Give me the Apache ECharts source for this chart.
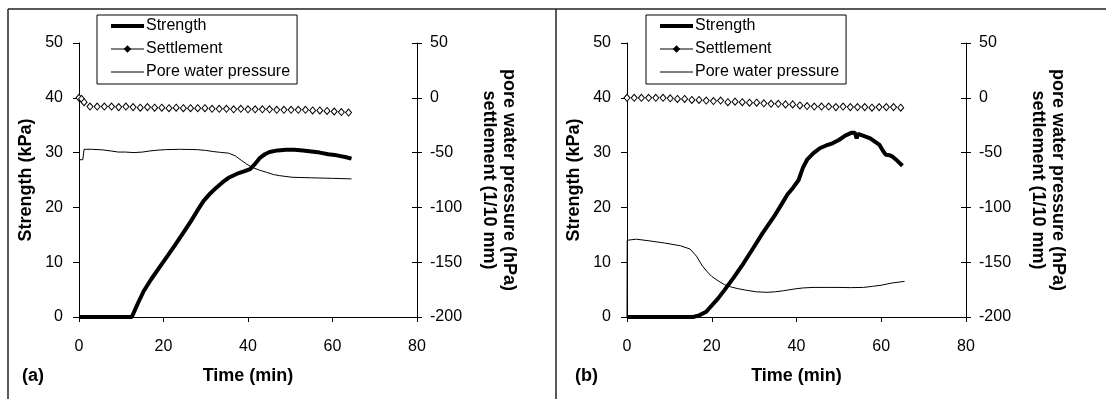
<!DOCTYPE html>
<html lang="en" style="height: 100%">
<head>
    <meta charset="UTF-8">
    <title>Strength, settlement and pore water pressure vs time</title>
    <script src="https://cdn.jsdelivr.net/npm/echarts@6/dist/echarts.min.js"></script>
</head>
<body style="height: 100%; margin: 0; background: #fff">
<div id="main" style="width: 1106px; height: 399px"></div>
<script>
    // tick values
    var timeTicks = [0, 20, 40, 60, 80];
    var strengthTicks = [0, 10, 20, 30, 40, 50];
    var rightTicks = [-200, -150, -100, -50, 0, 50];

    // test (a): [time (min), value]
    var strengthA = [[0,0],[5,0],[10,0],[12.5,0],[13.2,1.2],[14,2.6],[15.3,4.7],[17,6.8],[19,9],[21,11.2],[22.8,13.2],
        [24.7,15.4],[26.5,17.5],[28,19.4],[29.5,21.2],[31,22.5],[32.5,23.6],[34,24.6],[35.4,25.4],[37.3,26.1],[39.2,26.6],
        [40.5,27],[41.5,27.8],[42.9,29.1],[44,29.7],[45.1,30.1],[47,30.4],[49,30.5],[51,30.5],[53,30.4],[55,30.2],
        [57,30],[59,29.7],[61,29.5],[63,29.2],[64.5,28.9]];
    var settlementA = [[0,0],[0.6,-1],[1.2,-4],[2.6,-8],[4.3,-8],[6.0,-8],[7.7,-8],[9.4,-8.5],[11.1,-8],[12.8,-8.5],
        [14.5,-9],[16.2,-8.5],[17.9,-9],[19.6,-9],[21.3,-9.5],[23.0,-9],[24.7,-9.5],[26.4,-9.5],[28.1,-9.5],[29.8,-9.5],
        [31.5,-10],[33.2,-10],[34.9,-10],[36.6,-10.5],[38.3,-10],[40.0,-10.5],[41.7,-10.5],[43.4,-10.5],[45.1,-10.5],[46.8,-11],
        [48.5,-11],[50.2,-11],[51.9,-11],[53.6,-11],[55.3,-11.5],[57.0,-11.5],[58.7,-12],[60.4,-12.5],[62.1,-13],[63.8,-13.5]];
    var poreA = [[0,-56.5],[0.9,-56.5],[1.2,-47],[3,-47],[5.6,-47.5],[7.5,-48.5],[9.3,-49.5],[11,-49.5],[13,-50],[15,-49.5],
        [16.8,-48.5],[18.5,-47.8],[20.5,-47.3],[24,-47],[28,-47.3],[30,-48],[31.7,-49],[33.5,-49.8],[35.4,-50.5],[37,-53],
        [38.4,-57],[39.7,-60.5],[41,-63.5],[42.7,-66],[44.4,-68],[46,-70],[47.4,-71],[50.4,-72.5],[55,-73],[60,-73.5],[64.5,-74]];

    // test (b)
    var strengthB = [[0,0],[5,0],[10,0],[15.6,0],[17,0.3],[18.6,0.9],[20,2.1],[21.5,3.4],[23,4.9],[25,7],[27.5,9.8],
        [29.8,12.6],[32,15.3],[33.5,17],[35,18.7],[36.5,20.6],[37.9,22.4],[39.2,23.6],[40.5,25],[41.5,27.2],[42.5,28.7],
        [44,29.9],[45.5,30.8],[47,31.3],[48.5,31.7],[50,32.3],[51.5,33.1],[52.9,33.6],[53.8,33.6],[54.2,32.6],[54.5,33.4],
        [56,33],[57.4,32.6],[58.5,32],[59.6,31.4],[60.5,30.2],[61.1,29.6],[62,29.5],[62.6,29.3],[63.8,28.5],[65,27.6]];
    var settlementB = [[0,0],[1.7,0],[3.4,0],[5.1,0],[6.8,0],[8.5,0],[10.2,-0.5],[11.9,-1],[13.6,-1],[15.3,-2],[17.0,-2],
        [18.7,-2.5],[20.4,-3],[22.1,-2.5],[23.8,-4],[25.5,-3.5],[27.2,-4],[28.9,-4.5],[30.6,-4.5],[32.3,-5],[34.0,-5.5],
        [35.7,-5.5],[37.4,-6],[39.1,-6],[40.8,-7],[42.5,-7.5],[44.2,-8],[45.9,-8],[47.6,-8],[49.3,-8.5],[51.0,-8],
        [52.7,-8.5],[54.4,-8.5],[56.1,-8.5],[57.8,-9],[59.5,-8.5],[61.2,-8.5],[62.9,-8.5],[64.6,-9]];
    var poreB = [[0,-200],[0.05,-130],[2.2,-129],[5.2,-130.5],[8.9,-132.5],[12.6,-135],[14.9,-138],[16.4,-144.5],
        [17.8,-153.5],[19,-159],[20,-163],[21.5,-167],[23,-170.5],[24.5,-172.5],[26,-174],[28,-175.5],[30.5,-177],
        [33,-177.5],[35,-177],[37,-176],[39.4,-174.5],[41.5,-173.5],[43.9,-173],[47,-173],[49.8,-173],[52.8,-173.2],
        [55.8,-173],[58,-172],[60,-171],[62.5,-169],[65.5,-167.5]];

    var font = 'Liberation Sans, Arial, sans-serif';

    function xAxis(grid) {
        return {
            type: 'value', gridIndex: grid, min: timeTicks[0], max: timeTicks[timeTicks.length - 1], interval: 20,
            name: 'Time (min)', nameLocation: 'middle', nameGap: 50,
            nameTextStyle: {fontFamily: font, fontSize: 18, fontWeight: 'bold', color: '#000'},
            axisLine: {lineStyle: {color: '#000', width: 1}},
            axisTick: {inside: false, length: 5, lineStyle: {color: '#000'}},
            axisLabel: {fontFamily: font, fontSize: 16, color: '#000', margin: 22},
            splitLine: {show: false}
        };
    }

    function leftAxis(grid) {
        return {
            type: 'value', gridIndex: grid, position: 'left', min: strengthTicks[0], max: strengthTicks[5], interval: 10,
            name: 'Strength (kPa)', nameLocation: 'middle', nameGap: 44, nameRotate: 90,
            nameTextStyle: {fontFamily: font, fontSize: 18, fontWeight: 'bold', color: '#000'},
            axisLine: {show: true, lineStyle: {color: '#000', width: 1}},
            axisTick: {show: true, length: 6, lineStyle: {color: '#000'}},
            axisLabel: {fontFamily: font, fontSize: 16, color: '#000', margin: 16},
            splitLine: {show: false}
        };
    }

    function rightAxis(grid, inside) {
        return {
            type: 'value', gridIndex: grid, position: 'right', min: rightTicks[0], max: rightTicks[5], interval: 50,
            name: inside ? '' : 'pore water pressure (hPa)\nsettlement (1/10 mm)',
            nameLocation: 'middle', nameGap: 62, nameRotate: -90,
            nameTextStyle: {fontFamily: font, fontSize: 18, fontWeight: 'bold', color: '#000', lineHeight: 20},
            axisLine: {show: !inside, lineStyle: {color: '#000', width: 1}},
            axisTick: {show: true, inside: inside, length: 5, lineStyle: {color: '#000'}},
            axisLabel: {show: !inside, fontFamily: font, fontSize: 16, color: '#000', margin: 13},
            splitLine: {show: false}
        };
    }

    function legend(left) {
        return {
            orient: 'vertical', left: left, top: 15,
            data: [
                {name: 'Strength', lineStyle: {width: 4, color: '#000'}, itemStyle: {opacity: 0}},
                {name: 'Settlement', lineStyle: {width: 1, color: '#000'}, itemStyle: {color: '#000', borderColor: '#000'}},
                {name: 'Pore water pressure', lineStyle: {width: 1, color: '#000'}, itemStyle: {opacity: 0}}
            ],
            backgroundColor: '#fff', borderColor: '#000', borderWidth: 1, borderRadius: 0,
            padding: [3, 7, 4, 12], itemWidth: 33, itemHeight: 6, itemGap: 7,
            textStyle: {fontFamily: font, fontSize: 16, color: '#000', padding: [0, 0, 0, -3], lineHeight: 16},
            selectedMode: false
        };
    }

    function seriesFor(grid, strength, settlement, pore) {
        var xi = grid, yl = grid * 3, yr = grid * 3 + 1;
        return [
            {name: 'Pore water pressure', type: 'line', xAxisIndex: xi, yAxisIndex: yr, data: pore,
                showSymbol: false, symbol: 'none', lineStyle: {color: '#000', width: 1}, z: 2},
            {name: 'Settlement', type: 'line', xAxisIndex: xi, yAxisIndex: yr, data: settlement,
                symbol: 'diamond', symbolSize: [6, 7], showAllSymbol: true,
                itemStyle: {color: '#fff', borderColor: '#000', borderWidth: 1},
                lineStyle: {width: 0}, z: 3},
            {name: 'Strength', type: 'line', xAxisIndex: xi, yAxisIndex: yl, data: strength,
                showSymbol: false, symbol: 'none', lineStyle: {color: '#000', width: 4}, z: 4}
        ];
    }

    var option = {
        backgroundColor: '#fff',
        animation: false,
        legend: [legend(97), legend(646)],
        grid: [
            {left: 79, right: 689, top: 43, bottom: 82},
            {left: 627, right: 140, top: 43, bottom: 82}
        ],
        xAxis: [xAxis(0), xAxis(1)],
        yAxis: [leftAxis(0), rightAxis(0, false), rightAxis(0, true),
                leftAxis(1), rightAxis(1, false), rightAxis(1, true)],
        series: seriesFor(0, strengthA, settlementA, poreA).concat(seriesFor(1, strengthB, settlementB, poreB)),
        graphic: [
            {type: 'line', shape: {x1: 8, y1: 9, x2: 1106, y2: 9}, style: {stroke: '#222', lineWidth: 1.5}},
            {type: 'line', shape: {x1: 8, y1: 9, x2: 8, y2: 399}, style: {stroke: '#222', lineWidth: 1.5}},
            {type: 'line', shape: {x1: 556, y1: 9, x2: 556, y2: 399}, style: {stroke: '#222', lineWidth: 1.5}},
            {type: 'text', left: 22, top: 367, style: {text: '(a)', font: 'bold 18px ' + font, fill: '#000'}},
            {type: 'text', left: 575, top: 367, style: {text: '(b)', font: 'bold 18px ' + font, fill: '#000'}}
        ]
    };

    var myChart = echarts.init(document.getElementById('main'));
    myChart.setOption(option);
</script>
</body>
</html>
